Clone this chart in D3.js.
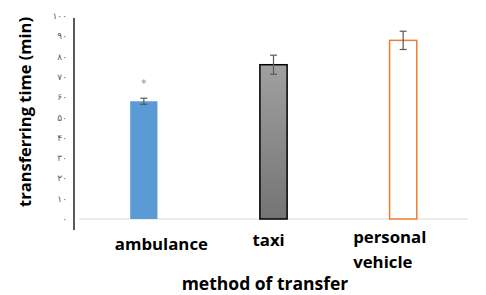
<!DOCTYPE html>
<html>
<head>
<meta charset="utf-8">
<script src="https://cdn.jsdelivr.net/npm/d3@7"></script>
<style>
body { margin: 0; background: #fff; }
</style>
</head>
<body>
<div id="chart"></div>
<script>
var categories = ["ambulance", "taxi", "personal vehicle"];
var values = [58, 76, 88];
var errors = [1.5, 4.7, 4.5];
var ticks = [0, 10, 20, 30, 40, 50, 60, 70, 80, 90, 100];
var tick_labels = ["۰", "۱۰", "۲۰", "۳۰", "۴۰", "۵۰", "۶۰", "۷۰", "۸۰", "۹۰", "۱۰۰"];

var width = 486, height = 295;

var svg = d3.select("#chart").append("svg")
    .attr("width", width)
    .attr("height", height);

var defs = svg.append("defs");
var grad = defs.append("linearGradient")
    .attr("id", "gray_grad")
    .attr("x1", 0).attr("y1", 0).attr("x2", 0).attr("y2", 1);
grad.append("stop").attr("offset", "0%").attr("stop-color", "#a0a0a0");
grad.append("stop").attr("offset", "100%").attr("stop-color", "#747474");

var x = d3.scaleBand()
    .domain(categories)
    .range([79, 468])
    .paddingInner(0.79)
    .paddingOuter(0.395);

var y = d3.scaleLinear()
    .domain([0, 100])
    .range([219, 16]);

// baseline
svg.append("line")
    .attr("x1", 79).attr("x2", 468)
    .attr("y1", y(0)).attr("y2", y(0))
    .attr("stroke", "#d9d9d9")
    .attr("stroke-width", 1);

// y axis line
svg.append("line")
    .attr("x1", 74).attr("x2", 74)
    .attr("y1", 18).attr("y2", 230)
    .attr("stroke", "#000")
    .attr("stroke-width", 1.3);

// tick labels (persian digits)
svg.selectAll(".tick_label")
    .data(ticks)
    .enter().append("text")
    .attr("class", "tick_label")
    .attr("x", 67)
    .attr("y", function(d) { return y(d) + 3; })
    .attr("text-anchor", "end")
    .attr("font-family", "DejaVu Sans")
    .attr("font-size", 9)
    .attr("fill", "#595959")
    .text(function(d, i) { return tick_labels[i]; });

var fills = ["#5b9bd5", "url(#gray_grad)", "#ffffff"];
var strokes = ["none", "#000000", "#ed7d31"];

svg.selectAll(".bar")
    .data(values)
    .enter().append("rect")
    .attr("class", "bar")
    .attr("x", function(d, i) { return x(categories[i]); })
    .attr("y", function(d) { return y(d); })
    .attr("width", x.bandwidth())
    .attr("height", function(d) { return y(0) - y(d); })
    .attr("fill", function(d, i) { return fills[i]; })
    .attr("stroke", function(d, i) { return strokes[i]; })
    .attr("stroke-width", 1.5);

// error bars
var eb = svg.selectAll(".err")
    .data(values)
    .enter().append("g")
    .attr("class", "err")
    .attr("stroke", "#595959")
    .attr("stroke-width", 1.2);
eb.append("line")
    .attr("x1", function(d, i) { return x(categories[i]) + x.bandwidth() / 2; })
    .attr("x2", function(d, i) { return x(categories[i]) + x.bandwidth() / 2; })
    .attr("y1", function(d, i) { return y(d + errors[i]); })
    .attr("y2", function(d, i) { return y(d - errors[i]); });
[1, -1].forEach(function(s) {
    eb.append("line")
        .attr("x1", function(d, i) { return x(categories[i]) + x.bandwidth() / 2 - 3.5; })
        .attr("x2", function(d, i) { return x(categories[i]) + x.bandwidth() / 2 + 3.5; })
        .attr("y1", function(d, i) { return y(d + s * errors[i]); })
        .attr("y2", function(d, i) { return y(d + s * errors[i]); });
});

// significance mark
svg.append("text")
    .attr("x", x(categories[0]) + x.bandwidth() / 2)
    .attr("y", y(values[0]) - 14)
    .attr("text-anchor", "middle")
    .attr("font-family", "DejaVu Sans")
    .attr("font-size", 10)
    .attr("fill", "#8c8c8c")
    .text("*");

// category labels (left aligned, offset from band centre)
var label_dx = [-29, -21, -50];
var label_dy = [31, 27, 24];
var lab = svg.selectAll(".cat")
    .data(categories)
    .enter().append("text")
    .attr("class", "cat")
    .attr("x", function(d, i) { return x(d) + x.bandwidth() / 2 + label_dx[i]; })
    .attr("y", function(d, i) { return y(0) + label_dy[i]; })
    .attr("text-anchor", "start")
    .attr("font-family", "Open Sans")
    .attr("font-weight", "bold")
    .attr("font-size", 16.8)
    .attr("fill", "#000");
lab.each(function(d) {
    var t = d3.select(this);
    d.split(" ").forEach(function(w, j) {
        t.append("tspan")
            .attr("x", t.attr("x"))
            .attr("dy", j == 0 ? 0 : 25)
            .text(w);
    });
});

// axis titles
svg.append("text")
    .attr("x", 265)
    .attr("y", 290)
    .attr("text-anchor", "middle")
    .attr("font-family", "Open Sans")
    .attr("font-weight", "bold")
    .attr("font-size", 17.5)
    .text("method of transfer");

svg.append("text")
    .attr("transform", "translate(31,112) rotate(-90)")
    .attr("text-anchor", "middle")
    .attr("font-family", "Open Sans")
    .attr("font-weight", "bold")
    .attr("font-size", 16.5)
    .text("transferring time (min)");
</script>
</body>
</html>
